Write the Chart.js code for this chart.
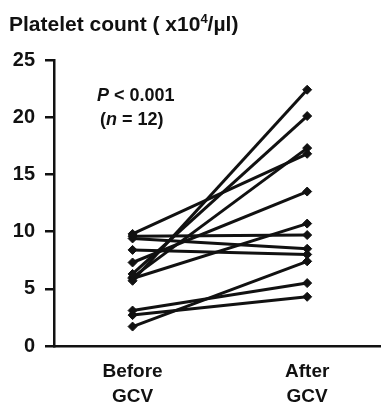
<!DOCTYPE html>
<html>
<head>
<meta charset="utf-8">
<script src="https://cdn.jsdelivr.net/npm/chart.js@4"></script>
<style>
  html, body { margin: 0; padding: 0; background: #fff; }
  #wrap { position: relative; width: 386px; height: 407px; }
</style>
</head>
<body>
<div id="wrap"><canvas id="plateletChart"></canvas></div>
<script>
// paired values, one patient per index
const groups = [['Before', 'GCV'], ['After', 'GCV']];
const beforeGCV = [9.8, 9.6, 9.4, 8.4, 7.3, 6.3, 5.7, 5.9, 6.0, 3.1, 2.7, 1.7];
const afterGCV  = [16.8, 9.7, 8.5, 8.0, 13.5, 20.1, 22.4, 10.7, 17.3, 5.5, 4.3, 7.4];
const yTicks = [0, 5, 10, 15, 20, 25];

const font = "'Liberation Sans', Arial, sans-serif";

const datasets = beforeGCV.map((b, i) => ({
  data: [{x: 1, y: b}, {x: 2, y: afterGCV[i]}],
  borderColor: '#111',
  backgroundColor: '#111',
  borderWidth: 3,
  pointStyle: 'rectRot',
  pointRadius: 4.5,
  pointBorderWidth: 1,
  pointBorderColor: '#111'
}));

const textPlugin = {
  id: 'texts',
  afterDraw(chart) {
    const c = chart.ctx;
    c.save();
    c.fillStyle = '#111';
    c.textBaseline = 'alphabetic';
    c.textAlign = 'left';
    // title
    c.font = 'bold 21px ' + font;
    let t1 = 'Platelet count ( x10';
    c.fillText(t1, 9, 31);
    let w = c.measureText(t1).width;
    c.font = 'bold 13px ' + font;
    c.fillText('4', 9 + w, 23);
    let w2 = c.measureText('4').width;
    c.font = 'bold 21px ' + font;
    c.fillText('/µl)', 9 + w + w2, 31);

    // statistics note
    let x = 97;
    c.font = 'italic bold 18px ' + font;
    c.fillText('P', x, 101);
    x += c.measureText('P').width;
    c.font = 'bold 18px ' + font;
    c.fillText(' < 0.001', x, 101);

    x = 100;
    c.fillText('(', x, 125);
    x += c.measureText('(').width;
    c.font = 'italic bold 18px ' + font;
    c.fillText('n', x, 125);
    x += c.measureText('n').width;
    c.font = 'bold 18px ' + font;
    c.fillText(' = 12)', x, 125);
    c.restore();
  }
};

new Chart(document.getElementById('plateletChart'), {
  type: 'line',
  data: { datasets: datasets },
  options: {
    responsive: true,
    maintainAspectRatio: false,
    animation: false,
    layout: { padding: { top: 60, right: 0, bottom: 0, left: 0 } },
    plugins: { legend: { display: false }, tooltip: { enabled: false } },
    scales: {
      x: {
        type: 'linear',
        min: 0.55,
        max: 2.42,
        afterBuildTicks(scale) { scale.ticks = [{value: 1}, {value: 2}]; },
        afterFit(scale) { scale.height = 61; },
        grid: { display: false },
        border: { display: true, color: '#111', width: 2.5 },
        ticks: {
          color: '#111',
          font: { family: font, size: 19, weight: 'bold', lineHeight: 1.28 },
          padding: 6,
          maxRotation: 0,
          autoSkip: false,
          callback: (v) => groups[v - 1] || ''
        }
      },
      y: {
        min: 0,
        max: 25,
        afterBuildTicks(scale) { scale.ticks = yTicks.map(v => ({value: v})); },
        afterFit(scale) { scale.width = 54; },
        grid: { drawOnChartArea: false, drawTicks: true, tickLength: 9, color: '#111', lineWidth: 2.5 },
        border: { display: true, color: '#111', width: 2.5 },
        ticks: {
          color: '#111',
          font: { family: font, size: 20, weight: 'bold' },
          padding: 10
        }
      }
    }
  },
  plugins: [textPlugin]
});
</script>
</body>
</html>
